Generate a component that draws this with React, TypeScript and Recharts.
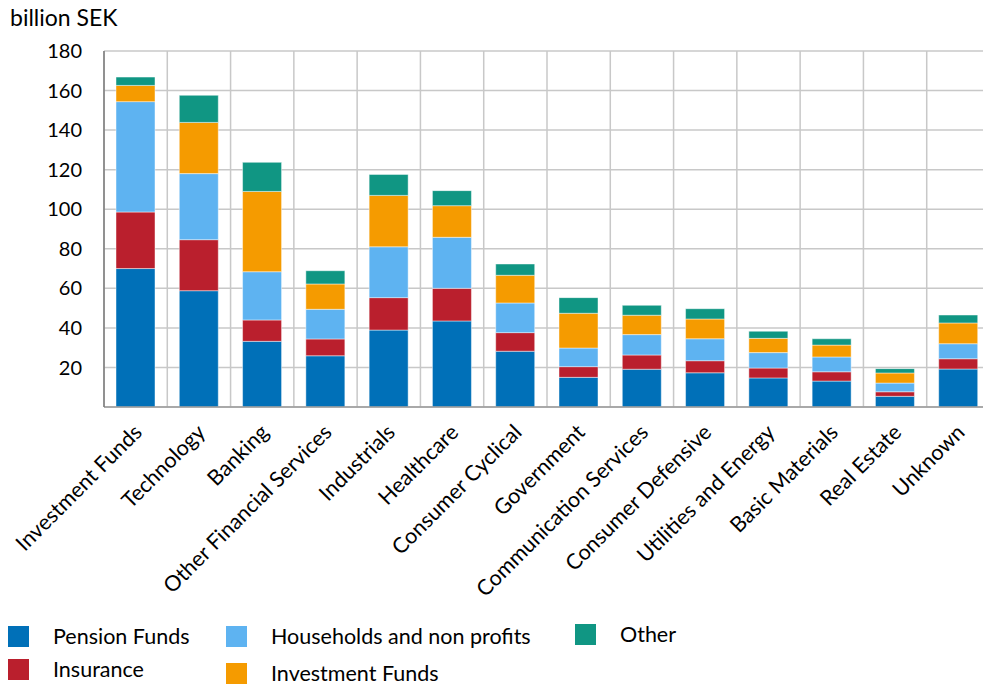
import { BarChart, Bar, XAxis, YAxis, CartesianGrid } from 'recharts';

const categories = [
	'Investment Funds',
	'Technology',
	'Banking',
	'Other Financial Services',
	'Industrials',
	'Healthcare',
	'Consumer Cyclical',
	'Government',
	'Communication Services',
	'Consumer Defensive',
	'Utilities and Energy',
	'Basic Materials',
	'Real Estate',
	'Unknown',
];

const pensionFunds = [70, 58.8, 33.2, 25.9, 38.9, 43.5, 28.2, 15, 19.1, 17.3, 14.7, 13.1, 5.4, 19.2];
const insurance = [28.6, 25.8, 10.8, 8.5, 16.4, 16.5, 9.4, 5.4, 7.2, 6.1, 5, 4.7, 2.3, 5.2];
const households = [55.8, 33.4, 24.4, 15, 25.7, 25.8, 15, 9.4, 10.3, 11.1, 7.8, 7.5, 4.4, 7.6];
const investmentFunds = [8.2, 25.9, 40.6, 12.8, 26, 16, 14, 17.6, 9.8, 10, 7.2, 6, 5.1, 10.5];
const other = [4.2, 13.7, 14.7, 6.7, 10.6, 7.6, 5.7, 7.9, 5, 5.2, 3.6, 3.2, 2.2, 4];

const yTicks = [20, 40, 60, 80, 100, 120, 140, 160, 180];

const series = [
	{ key: 'pension', name: 'Pension Funds', values: pensionFunds, color: '#0070b8' },
	{ key: 'insurance', name: 'Insurance', values: insurance, color: '#ba1f2d' },
	{ key: 'households', name: 'Households and non profits', values: households, color: '#5eb3f1' },
	{ key: 'invest', name: 'Investment Funds', values: investmentFunds, color: '#f59b00' },
	{ key: 'other', name: 'Other', values: other, color: '#109683' },
];

const data = categories.map((name, i) => {
	const row: Record<string, any> = { name };
	series.forEach((s) => (row[s.key] = s.values[i]));
	return row;
});

// legend slots, same order as the reference
const legendPos: Record<string, { left: number; top: number }> = {
	pension: { left: 8, top: 625 },
	insurance: { left: 8, top: 658 },
	households: { left: 226, top: 625 },
	invest: { left: 226, top: 662 },
	other: { left: 575, top: 623 },
};

const FONT = 'Lato, "Open Sans", sans-serif';

function XTick({ x, y, payload }: any) {
	return (
		<g transform={`translate(${x + 2},${y + 19})`}>
			<text x={0} y={0} dy={8} textAnchor="end" transform="rotate(-45)" fill="#000" fontSize={21.5} fontFamily={FONT}>
				{payload.value}
			</text>
		</g>
	);
}

export default function App() {
	return (
		<div style={{ position: 'fixed', left: 0, top: 0, width: 983, height: 685, overflow: 'hidden', background: '#fff', fontFamily: FONT }}>
			<div style={{ position: 'absolute', left: 10, top: 3, fontSize: 23, color: '#000' }}>billion SEK</div>
			<BarChart width={995} height={685} data={data} margin={{ top: 51, right: 5, left: 0, bottom: 128 }}>
				<CartesianGrid
					stroke="#c8c8c8"
					strokeWidth={1.5}
					verticalCoordinatesGenerator={({ offset }: any) =>
						categories.map((_, i) => offset.left + (i * offset.width) / categories.length).concat(offset.left + offset.width)
					}
				/>
				<XAxis
					dataKey="name"
					interval={0}
					height={150}
					tickLine={false}
					tickSize={0}
					axisLine={{ stroke: '#9a9a9a', strokeWidth: 1.5 }}
					tick={<XTick />}
				/>
				<YAxis
					width={104}
					domain={[0, 180]}
					ticks={yTicks}
					tickLine={false}
					tickSize={0}
					tickMargin={22}
					axisLine={{ stroke: '#7a7a7a', strokeWidth: 1.5 }}
					tick={{ fill: '#000', fontSize: 20, fontFamily: FONT }}
				/>
				{series.map((s) => (
					<Bar
						key={s.key}
						dataKey={s.key}
						name={s.name}
						stackId="a"
						fill={s.color}
						barSize={39}
						stroke="rgba(255,255,255,0.45)"
						strokeWidth={1}
						isAnimationActive={false}
					/>
				))}
			</BarChart>
			{series.map((s) => (
				<div
					key={s.key}
					style={{
						position: 'absolute',
						left: legendPos[s.key].left,
						top: legendPos[s.key].top,
						display: 'flex',
						alignItems: 'center',
						fontSize: 21.5,
						lineHeight: '22px',
						color: '#000',
					}}
				>
					<div style={{ width: 21, height: 21, background: s.color, marginRight: 24 }} />
					<span>{s.name}</span>
				</div>
			))}
		</div>
	);
}
